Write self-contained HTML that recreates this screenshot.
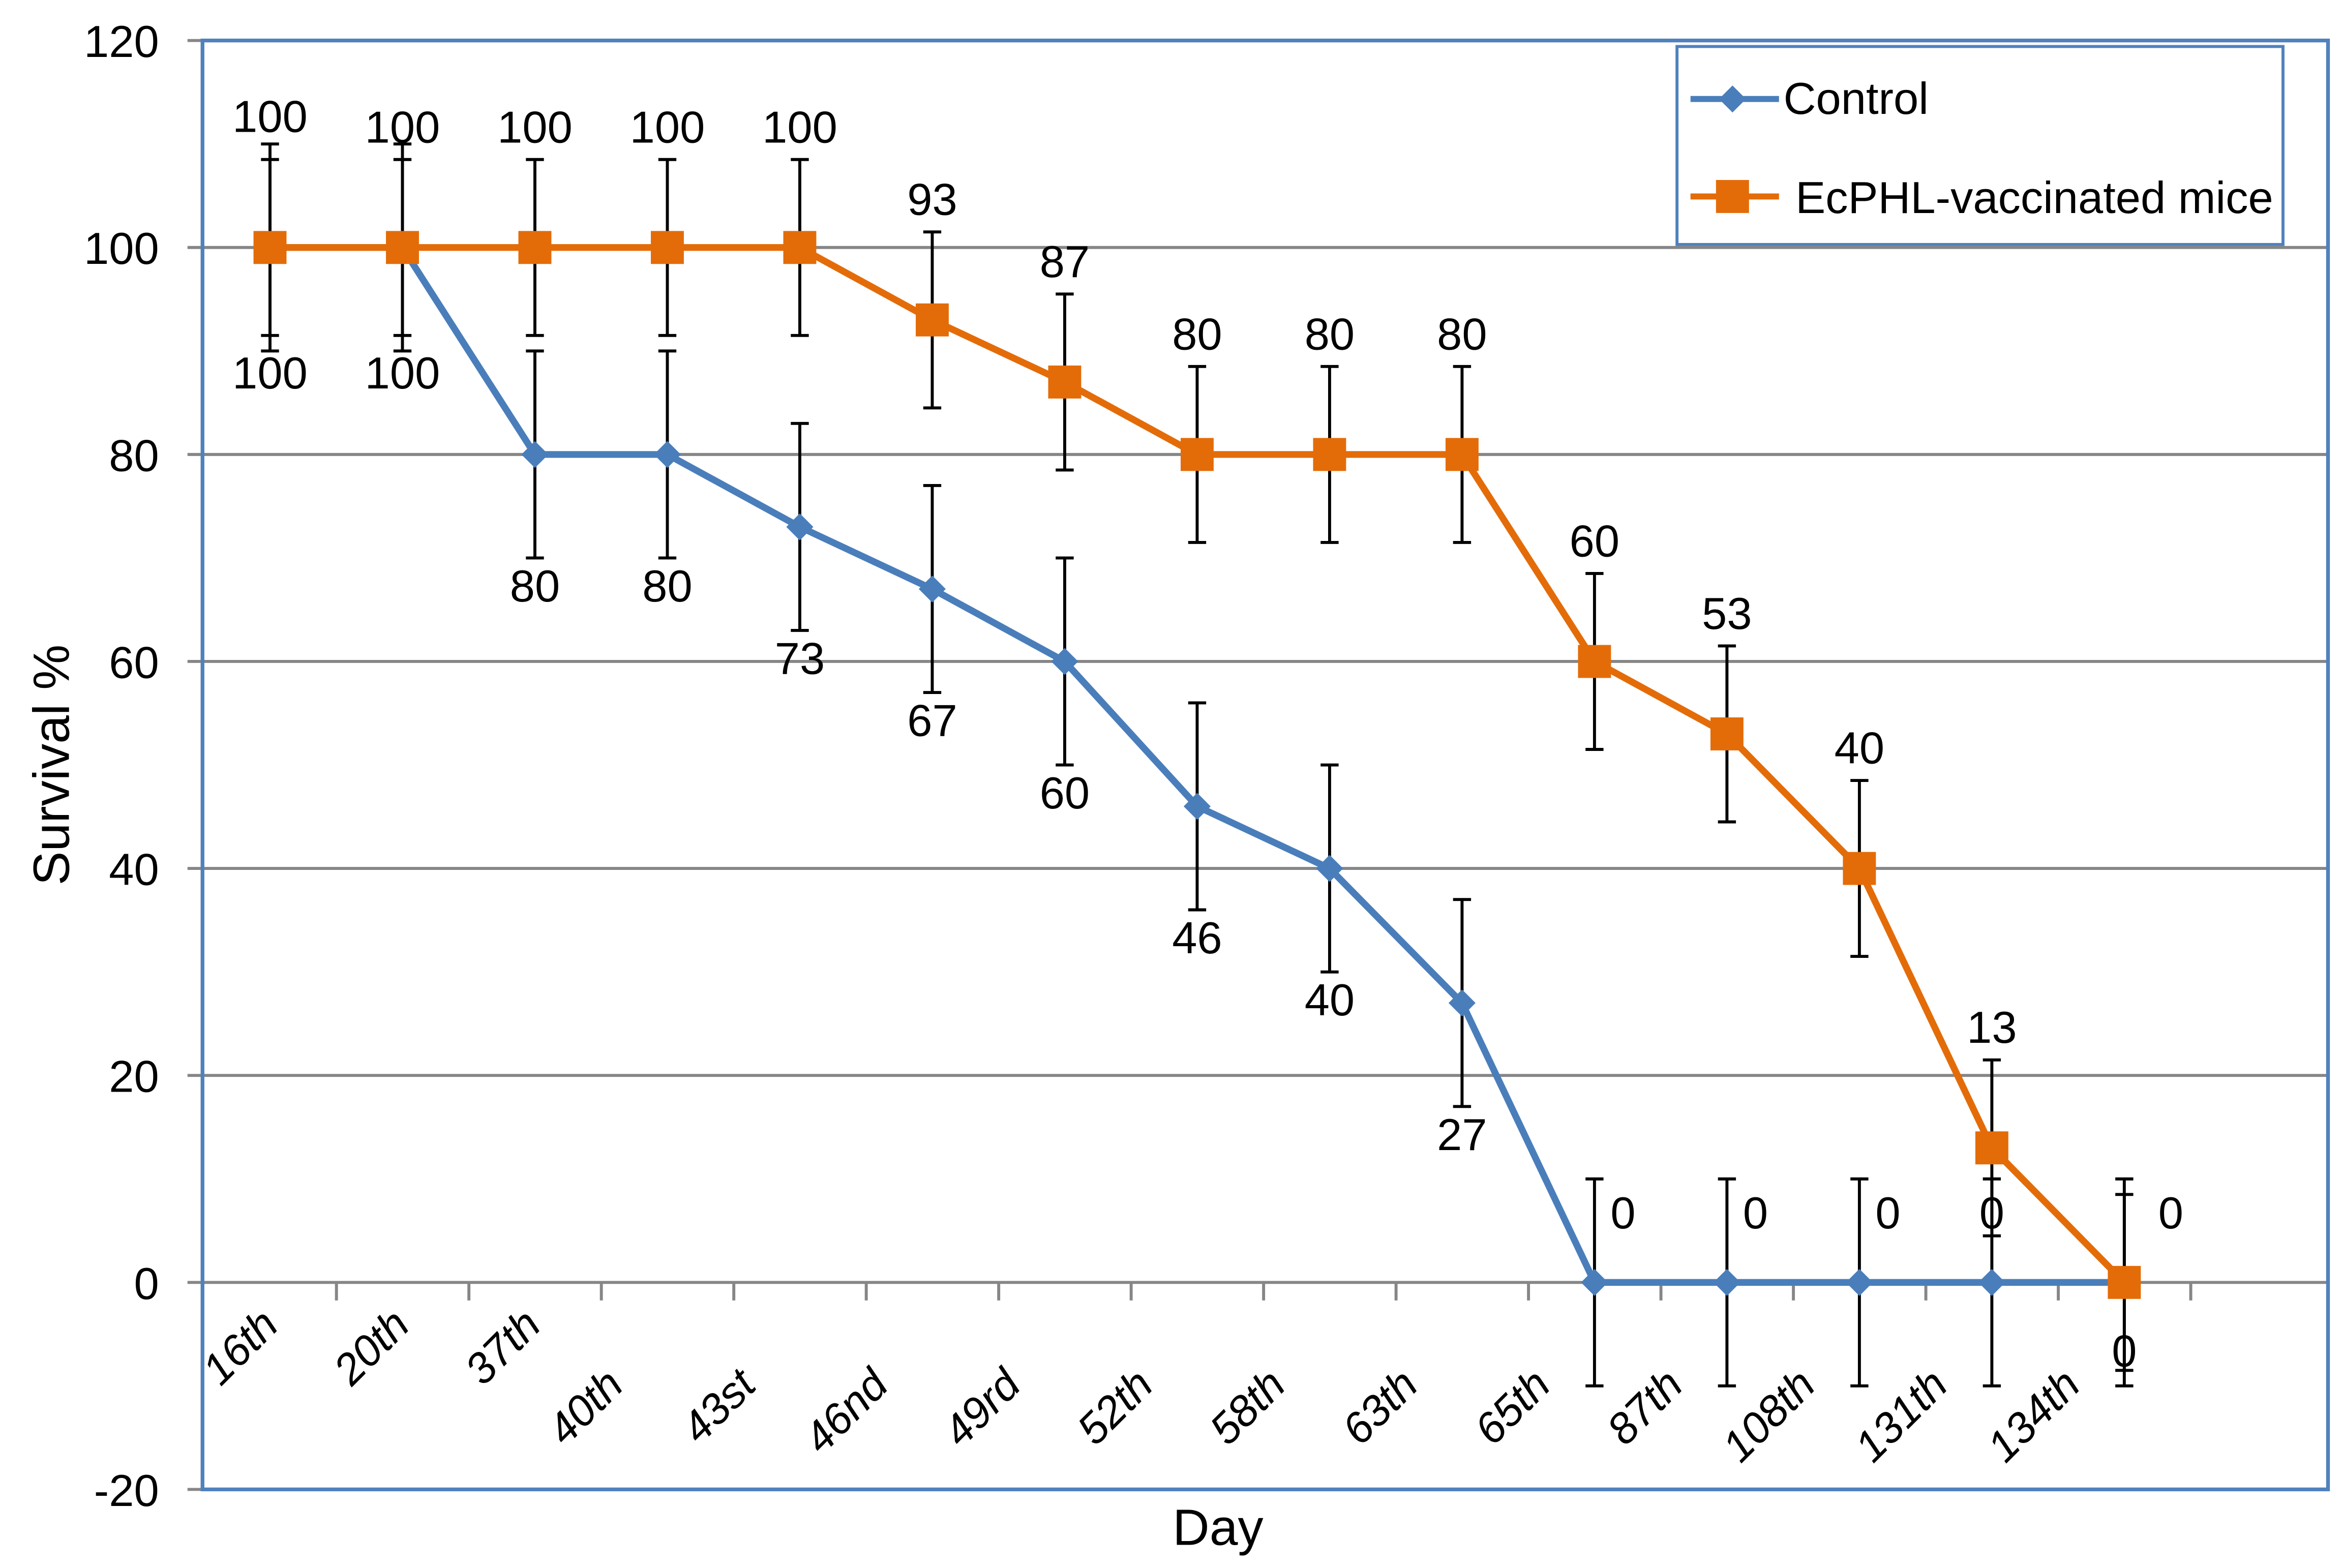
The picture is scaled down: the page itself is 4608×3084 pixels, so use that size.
<!DOCTYPE html>
<html><head><meta charset="utf-8"><style>
html,body{margin:0;padding:0;background:#fff}
svg{display:block}
text{font-family:"Liberation Sans Narrow","Liberation Sans",sans-serif;fill:#000}
</style></head><body>
<svg id="chart" width="4608" height="3084" viewBox="0 0 1562 1045.4" preserveAspectRatio="none" xmlns="http://www.w3.org/2000/svg">
<g id="grid"></g>
<g id="axes"></g>
<g id="series"></g>
<g id="labels"></g>
<text x="46" y="510" font-size="34" text-anchor="middle" transform="rotate(-90 46 510)">Survival %</text>
<text x="812" y="1030" font-size="34" text-anchor="middle">Day</text>
<g>
<rect x="1118" y="31" width="404" height="132" fill="#fff" stroke="#4f81bd" stroke-width="2"/>
<g>
<line x1="1127" y1="66" x2="1186" y2="66" stroke="#4a7ebb" stroke-width="4"/>
<polygon points="1155,57 1164,66 1155,75 1146,66" fill="#4a7ebb"/>
<text x="1189" y="76" font-size="30">Control</text></g>
<g>
<line x1="1127" y1="131" x2="1186" y2="131" stroke="#e36c09" stroke-width="4"/>
<rect x="1144" y="120" width="22" height="22" fill="#e36c09"/>
<text x="1197" y="142" font-size="30">EcPHL-vaccinated mice</text></g>
</g>
</svg>
<script>
const categories=["16th","20th","37th","40th","43st","46nd","49rd","52th","58th","63th","65th","87th","108th","131th","134th"];
const controlValues=[100,100,80,80,73,67,60,46,40,27,0,0,0,0,0];
const controlErr=[10,10,10,10,10,10,10,10,10,10,10,10,10,10,10];
const vaccValues=[100,100,100,100,100,93,87,80,80,80,60,53,40,13,0];
const vaccErr=[8.5,8.5,8.5,8.5,8.5,8.5,8.5,8.5,8.5,8.5,8.5,8.5,8.5,8.5,8.5];
const yTicks=[-20,0,20,40,60,80,100,120];
const NS="http://www.w3.org/2000/svg";
const L=135,R=1552,T=27,B=993;
const cw=88.3;
function y(v){return 855-(v)*(B-T)/140;}
function x(i){return 180+cw*i;}
function mk(tag,attrs,parent){const e=document.createElementNS(NS,tag);for(const k in attrs)e.setAttribute(k,attrs[k]);parent.appendChild(e);return e;}
const grid=document.getElementById('grid'),axes=document.getElementById('axes'),series=document.getElementById('series'),labels=document.getElementById('labels');
yTicks.forEach(v=>{
  if(v>-20&&v<120){const g=mk('line',{x1:L,x2:R,y1:y(v),y2:y(v),stroke:'#868686','stroke-width':2},grid);
  
  }
  const tk=mk('line',{x1:125,x2:L,y1:y(v),y2:y(v),stroke:'#868686','stroke-width':2},axes);
  
  
  const t=mk('text',{x:106,y:y(v)+11,'font-size':30,'text-anchor':'end'},axes);
  t.textContent=v;
  
  
});
for(let k=1;k<16;k++){const xx=136+cw*k;const tk=mk('line',{x1:xx,x2:xx,y1:855,y2:867,stroke:'#868686','stroke-width':2},axes);
  
  }
const fr=mk('rect',{x:L,y:T,width:R-L,height:B-T,fill:'none',stroke:'#4f81bd','stroke-width':2.5},axes);


categories.forEach((c,i)=>{
  let ax,ay;
  if(i<3){ax=187+87.5*i;ay=885;}else{ax=417+88.3*(i-3);ay=925;}
  const t=mk('text',{x:ax,y:ay,'font-size':29,'font-style':'italic','text-anchor':'end',transform:`rotate(-45 ${ax} ${ay})`},axes);
  t.textContent=c;
  
  
});
function errBars(vals,errs,name){
  vals.forEach((v,i)=>{const g=mk('g',{stroke:'#000','stroke-width':2},series);
    
    
    mk('line',{x1:x(i),x2:x(i),y1:y(v-errs[i]),y2:y(v+errs[i])},g);
    mk('line',{x1:x(i)-6,x2:x(i)+6,y1:y(v-errs[i]),y2:y(v-errs[i])},g);
    mk('line',{x1:x(i)-6,x2:x(i)+6,y1:y(v+errs[i]),y2:y(v+errs[i])},g);});
}
errBars(controlValues,controlErr,'control');
errBars(vaccValues,vaccErr,'vaccinated');
const cl=mk('polyline',{points:controlValues.map((v,i)=>x(i)+','+y(v)).join(' '),fill:'none',stroke:'#4a7ebb','stroke-width':4.5},series);


controlValues.forEach((v,i)=>{const p=mk('polygon',{points:`${x(i)},${y(v)-9} ${x(i)+9},${y(v)} ${x(i)},${y(v)+9} ${x(i)-9},${y(v)}`,fill:'#4a7ebb'},series);
  
  });
const vl=mk('polyline',{points:vaccValues.map((v,i)=>x(i)+','+y(v)).join(' '),fill:'none',stroke:'#e36c09','stroke-width':4.5},series);


vaccValues.forEach((v,i)=>{const p=mk('rect',{x:x(i)-11,y:y(v)-11,width:22,height:22,fill:'#e36c09'},series);
  
  });
function lab(txt,lx,ly,name){const t=mk('text',{x:lx,y:ly,'font-size':30,'text-anchor':'middle'},labels);t.textContent=txt;
  
  }
controlValues.forEach((v,i)=>{
  if(v===0) lab(v,x(i)+(i===13?0:i===14?31:19),y(v)-36,'control-value-label');
  else lab(v,x(i),y(v)+(i<2?94:98),'control-value-label');
});
vaccValues.forEach((v,i)=>{
  if(v===0) lab(v,x(i),y(v)+56,'vaccinated-value-label');
  else lab(v,x(i),y(v)-(i===0?77:70),'vaccinated-value-label');
});
</script>
</body></html>
